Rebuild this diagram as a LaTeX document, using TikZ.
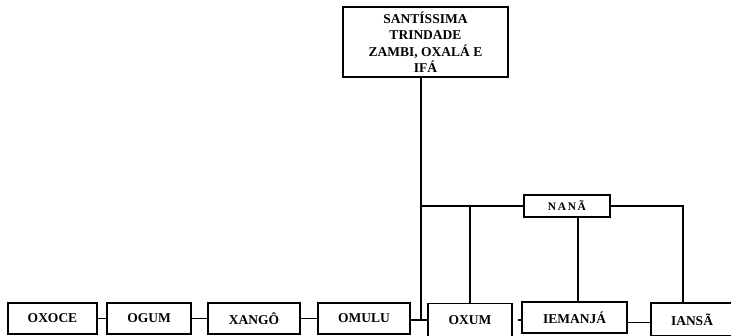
\documentclass[tikz,border=0pt]{standalone}
\usepackage{fontspec}
\setmainfont{Liberation Serif}
\usepackage{tikz}
\usetikzlibrary{positioning}

\begin{document}
\begin{tikzpicture}[
  x=1pt,y=-1pt,
  every node/.style={font=\fontsize{13.5}{16.5}\selectfont\bfseries},
  orixa/.style={draw,line width=1.6pt,minimum height=31pt,inner sep=0pt,align=center},
  topbox/.style={draw,line width=1.8pt,minimum width=165pt,minimum height=70pt,
                 inner sep=0pt,align=center},
  nanabox/.style={draw,line width=1.6pt,minimum width=86pt,minimum height=22pt,inner sep=0pt,
                  font=\fontsize{11.5}{13}\selectfont\bfseries\addfontfeature{LetterSpace=14}},
  lk/.style={line width=1.6pt}
]
\clip (0,0) rectangle (731,336);

%% top of the tree
\node[topbox] (trin) at (425.5,42) {SANTÍSSIMA\\TRINDADE\\ZAMBI, OXALÁ E\\IFÁ};
\node[nanabox] (nana) at (567,206) {NANÃ};

%% bottom row
\node[orixa,minimum width=89pt]  (oxoce) at (52.5,318.5) {OXOCE};
\node[orixa,minimum width=84pt]  (ogum)  at (149,318.5)  {OGUM};
\node[orixa,minimum width=92pt]  (xango) at (254,318.5)  {XANGÔ};
\node[orixa,minimum width=92pt]  (omulu) at (364,318.5)  {OMULU};
\node[orixa,minimum width=84pt,minimum height=33pt]  (oxum) at (470,320) {OXUM};
\node[orixa,minimum width=105pt] (iemanja) at (574.5,317.5) {IEMANJÁ};
\node[orixa,minimum width=82pt,minimum height=33pt]  (iansa) at (692,319.5) {IANSÃ};

\coordinate (tj) at (421,320);
\coordinate (nj) at (683,206);
\coordinate (mj) at (578,206);

%% Links
\draw[lk] (oxoce.east) -- (ogum.west);
\draw[lk] (ogum.east)  -- (xango.west);
\draw[lk] (xango.east) -- (omulu.west);
\draw[lk] (omulu.east |- tj) -- (oxum.west |- tj);
\draw[lk] (trin.south -| tj) -- (tj);
\draw[lk] (tj |- nana.west) -- (nana.west);
\draw[lk] (oxum.north |- nana.west) -- (oxum.north);
\draw[lk] ([xshift=5pt]oxum.east) -- (oxum.east -| iemanja.west);
\draw[lk] (nana.south -| mj) -- (mj |- iemanja.north);
\draw[lk] (nana.east) -- (nj) -- (nj |- iansa.north);
\draw[lk] ([yshift=-5pt]iemanja.east) -- ([yshift=-5pt]iemanja.east -| iansa.west);

\end{tikzpicture}
\end{document}
